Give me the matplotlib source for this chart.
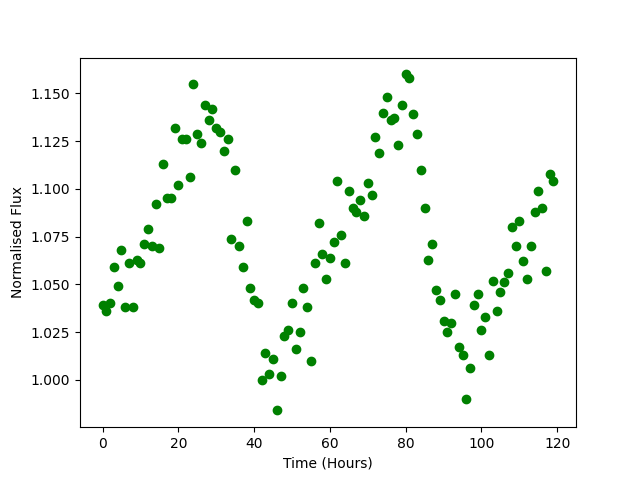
import numpy as np
import matplotlib
matplotlib.use('Agg')
from matplotlib import pyplot as plt

# hourly flux readings
flux = [1.039, 1.036, 1.040, 1.059, 1.049, 1.068, 1.038, 1.061, 1.038, 1.063,
        1.061, 1.071, 1.079, 1.070, 1.092, 1.069, 1.113, 1.095, 1.095, 1.132,
        1.102, 1.126, 1.126, 1.106, 1.155, 1.129, 1.124, 1.144, 1.136, 1.142,
        1.132, 1.130, 1.120, 1.126, 1.074, 1.110, 1.070, 1.059, 1.083, 1.048,
        1.042, 1.040, 1.000, 1.014, 1.003, 1.011, 0.984, 1.002, 1.023, 1.026,
        1.040, 1.016, 1.025, 1.048, 1.038, 1.010, 1.061, 1.082, 1.066, 1.053,
        1.064, 1.072, 1.104, 1.076, 1.061, 1.099, 1.090, 1.088, 1.094, 1.086,
        1.103, 1.097, 1.127, 1.119, 1.140, 1.148, 1.136, 1.137, 1.123, 1.144,
        1.160, 1.158, 1.139, 1.129, 1.110, 1.090, 1.063, 1.071, 1.047, 1.042,
        1.031, 1.025, 1.030, 1.045, 1.017, 1.013, 0.990, 1.006, 1.039, 1.045,
        1.026, 1.033, 1.013, 1.052, 1.036, 1.046, 1.051, 1.056, 1.080, 1.070,
        1.083, 1.062, 1.053, 1.070, 1.088, 1.099, 1.090, 1.057, 1.108, 1.104]
hours = list(range(len(flux)))

plt.figure(figsize=(6.4, 4.8), dpi=100)
plt.plot(hours, flux, 'go')
plt.xlabel('Time (Hours)')
plt.ylabel('Normalised Flux')
plt.savefig('out.png')
